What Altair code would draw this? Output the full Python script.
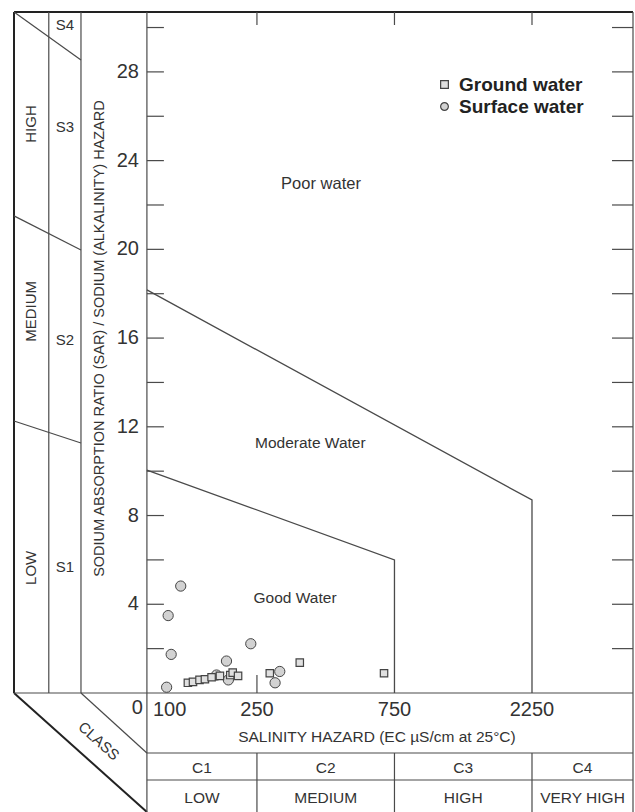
import math
import altair as alt
import pandas as pd

FONT = "Liberation Sans"
INK = "#333333"
LINE = "#4a4a4a"
DARK = "#222222"

# ---------------- values ----------------
GROUND_EC = [144, 150, 158, 165, 174, 186, 202, 206, 215, 277, 352, 690]
GROUND_SAR = [0.46, 0.50, 0.59, 0.62, 0.71, 0.77, 0.81, 0.92, 0.77, 0.89, 1.37, 0.89]
SURFACE_EC = [136, 123, 126, 121.5, 238, 196, 181, 199, 300, 289]
SURFACE_SAR = [4.82, 3.49, 1.74, 0.26, 2.22, 1.44, 0.81, 0.59, 0.97, 0.46]

# water-class boundary polylines (EC, SAR)
GOOD_EC = [103.8, 750, 750]
GOOD_SAR = [10.05, 6.0, 0.0]
MOD_EC = [103.8, 2250, 2250]
MOD_SAR = [18.17, 8.7, 0.0]

SERIES = ["Ground water", "Surface water"]
REGIONS = ["Poor water", "Moderate Water", "Good Water"]
REGION_EC = [417, 383, 339]
REGION_SAR = [22.95, 11.27, 4.28]

X_TICK_VALUES = [250, 750, 2250]
X_FIRST_LABEL = "100"
Y_TICK_LABELS = [4, 8, 12, 16, 20, 24, 28]
Y_MINOR_TICKS = [2, 4, 6, 8, 10, 12, 14, 16, 18, 20, 22, 24, 26, 28, 30]

C_EDGES = [103.8, 250, 750, 2250, 5042]
C_CODES = ["C1", "C2", "C3", "C4"]
C_NAMES = ["LOW", "MEDIUM", "HIGH", "VERY HIGH"]
S_CODES = ["S1", "S2", "S3", "S4"]
S_CODE_SAR = [5.68, 15.9, 25.5, 30.12]
S_NAMES = ["LOW", "MEDIUM", "HIGH"]
S_NAME_SAR = [5.64, 17.2, 25.65]

Y_TITLE = "SODIUM ABSORPTION RATIO (SAR) / SODIUM (ALKALINITY) HAZARD"
X_TITLE = "SALINITY HAZARD (EC µS/cm at 25°C)"

# ---------------- diagram frame, in (EC, SAR) units ----------------
X_MIN, X_MAX = 35.9, 5042          # whole drawing, extended EC axis
Y_MIN, Y_MAX = -5.365, 30.70       # whole drawing, extended SAR axis
STRIP_A, STRIP_B = 47.4, 61.3      # left-hand class strips
PLOT_L, PLOT_R = 103.8, 5042
ROW_A, ROW_B = -2.705, -3.922      # bottom class table rows

THICK = [
    (X_MIN, 0, X_MIN, Y_MAX),
    (X_MIN, Y_MAX, PLOT_R, Y_MAX),
    (X_MIN, 0, PLOT_L, Y_MIN),
]
THIN = [
    (STRIP_A, 0, STRIP_A, Y_MAX),
    (STRIP_B, 0, STRIP_B, Y_MAX),
    (PLOT_L, Y_MIN, PLOT_L, Y_MAX),
    (PLOT_R, Y_MIN, PLOT_R, Y_MAX),
    (X_MIN, 0, PLOT_R, 0),
    (PLOT_L, ROW_A, PLOT_R, ROW_A),
    (PLOT_L, ROW_B, PLOT_R, ROW_B),
    (250, Y_MIN, 250, ROW_A),
    (750, Y_MIN, 750, ROW_A),
    (2250, Y_MIN, 2250, ROW_A),
    (X_MIN, Y_MAX, STRIP_B, 28.54),
    (X_MIN, 21.51, STRIP_B, 19.97),
    (X_MIN, 12.26, STRIP_B, 11.27),
    (STRIP_B, 0, PLOT_L, ROW_A),
]

XS = alt.Scale(type="log", domain=[X_MIN, X_MAX], nice=False)
YS = alt.Scale(domain=[Y_MIN, Y_MAX], nice=False, zero=False)


def xq(f):
    return alt.X(f, type="quantitative", scale=XS, axis=None)


def yq(f):
    return alt.Y(f, type="quantitative", scale=YS, axis=None)


def segments(segs, width, color):
    df = pd.DataFrame(segs, columns=["x", "y", "x2", "y2"])
    return alt.Chart(df).mark_rule(strokeWidth=width, color=color).encode(
        x=xq("x"), y=yq("y"), x2="x2", y2="y2"
    )


def texts(xs, ys, labels, size, **kw):
    df = pd.DataFrame({"x": xs, "y": ys, "t": [str(s) for s in labels]})
    props = dict(font=FONT, fontSize=size, color=INK, align="center", baseline="middle")
    props.update(kw)
    return alt.Chart(df).mark_text(**props).encode(x=xq("x"), y=yq("y"), text="t:N")


frame = segments(THICK, 2, DARK) + segments(THIN, 1.2, LINE)

# ticks
left_ticks = alt.Chart(pd.DataFrame({"x": PLOT_L, "y": Y_MINOR_TICKS})).mark_rule(
    color=LINE, strokeWidth=1.2, x2Offset=17).encode(x=xq("x"), x2="x", y=yq("y"))
right_ticks = alt.Chart(pd.DataFrame({"x": PLOT_R, "y": Y_MINOR_TICKS})).mark_rule(
    color=LINE, strokeWidth=1.2, x2Offset=-21).encode(x=xq("x"), x2="x", y=yq("y"))
top_ticks = alt.Chart(pd.DataFrame({"x": X_TICK_VALUES, "y": Y_MAX})).mark_rule(
    color=LINE, strokeWidth=1.2, y2Offset=13).encode(x=xq("x"), y=yq("y"), y2="y")
bottom_tick = alt.Chart(pd.DataFrame({"x": [250], "y": [0.0]})).mark_rule(
    color=LINE, strokeWidth=1.2, y2Offset=-18).encode(x=xq("x"), y=yq("y"), y2="y")

# class boundaries
bnd = pd.DataFrame({
    "ec": GOOD_EC + MOD_EC,
    "sar": GOOD_SAR + MOD_SAR,
    "line": ["good"] * len(GOOD_EC) + ["moderate"] * len(MOD_EC),
    "i": list(range(len(GOOD_EC))) + list(range(len(MOD_EC))),
})
boundaries = alt.Chart(bnd).mark_line(color=LINE, strokeWidth=1.3).encode(
    x=xq("ec"), y=yq("sar"), detail="line:N", order="i:Q"
)

# points (shape, fill and stroke share one legend)
FILL = "#d2d2d2"
EDGE = "#444444"
LEG = alt.Legend(
    title=None, orient="none", legendX=421, legendY=63, padding=0,
    labelFont=FONT, labelFontSize=19, labelFontWeight="bold", labelColor="#222",
    symbolSize=60, symbolStrokeWidth=1.2, labelOffset=5, rowPadding=2,
)
enc = dict(
    shape=alt.Shape("type:N", scale=alt.Scale(domain=SERIES, range=["square", "circle"]), legend=LEG),
    fill=alt.Fill("type:N", scale=alt.Scale(domain=SERIES, range=["#e0e0e0", FILL]), legend=LEG),
    stroke=alt.Stroke("type:N", scale=alt.Scale(domain=SERIES, range=[EDGE, EDGE]), legend=LEG),
)
surface = alt.Chart(pd.DataFrame({"ec": SURFACE_EC, "sar": SURFACE_SAR, "type": SERIES[1]})).mark_point(
    size=105, filled=True, strokeWidth=1, opacity=1
).encode(x=xq("ec"), y=yq("sar"), **enc)
ground = alt.Chart(pd.DataFrame({"ec": GROUND_EC, "sar": GROUND_SAR, "type": SERIES[0]})).mark_point(
    size=55, filled=True, strokeWidth=1.2, opacity=1
).encode(x=xq("ec"), y=yq("sar"), **enc)

# labels
cell_centers = [math.sqrt(a * b) for a, b in zip(C_EDGES[:-1], C_EDGES[1:])]
strip_a_mid = math.sqrt(X_MIN * STRIP_A)
strip_b_mid = math.sqrt(STRIP_A * STRIP_B)

labels = [
    texts([PLOT_L] * len(Y_TICK_LABELS), Y_TICK_LABELS, Y_TICK_LABELS, 20, align="right", dx=-8),
    texts([PLOT_L], [0], ["0"], 20, align="right", dx=-4, dy=15.5),
    texts([PLOT_L], [0], [X_FIRST_LABEL], 20, align="left", dx=6, dy=17.5),
    texts(X_TICK_VALUES, [0] * 3, X_TICK_VALUES, 20, dy=17.5),
    texts([652], [-1.98], [X_TITLE], 15.5),
    texts([71.6], [15.98], [Y_TITLE], 14.5, angle=270),
    texts(REGION_EC[:1], REGION_SAR[:1], REGIONS[:1], 16.5),
    texts(REGION_EC[1:], REGION_SAR[1:], REGIONS[1:], 15.5),
    texts(cell_centers, [-3.36] * 4, C_CODES, 15.5),
    texts(cell_centers, [-4.73] * 4, C_NAMES, 15.5),
    texts([strip_b_mid] * 4, S_CODE_SAR, S_CODES, 15),
    texts([strip_a_mid] * 3, S_NAME_SAR, S_NAMES, 15, angle=270),
    texts([70.7], [-2.16], ["CLASS"], 15, angle=42),
]

chart = alt.layer(
    frame, left_ticks, right_ticks, top_ticks, bottom_tick, boundaries,
    surface, ground, *labels
).properties(
    width=619, height=800,
    padding={"left": 14, "top": 12, "right": 2, "bottom": 0},
    autosize=alt.AutoSizeParams(type="none"),
    background="white",
).configure_view(strokeWidth=0)

chart.save("out.html", embed_options={"renderer": "svg", "actions": False})
